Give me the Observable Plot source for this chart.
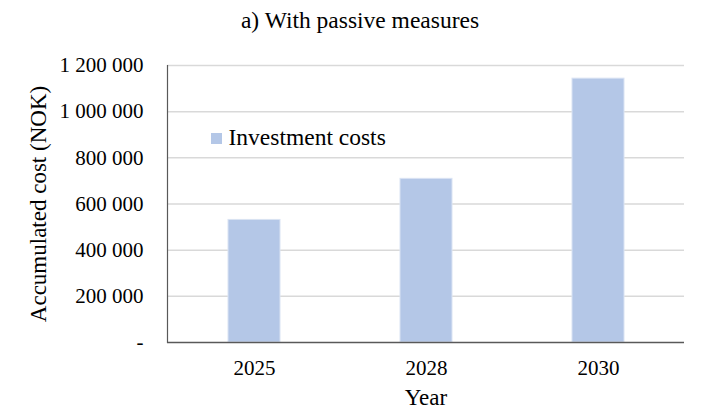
<!DOCTYPE html>
<html>
<head>
<meta charset="utf-8">
<script src="https://cdn.jsdelivr.net/npm/d3@7"></script>
<script src="https://cdn.jsdelivr.net/npm/@observablehq/plot@0.6"></script>
<style>
  html, body { margin: 0; padding: 0; background: #fff; }
  #chart { width: 702px; height: 413px; }
</style>
</head>
<body>
<div id="chart"></div>
<script>
const years = ["2025", "2028", "2030"];
const investmentCosts = [531000, 709000, 1143000];
const yTicks = [0, 200000, 400000, 600000, 800000, 1000000, 1200000];
const seriesName = "Investment costs";
const titleText = "a) With passive measures";
const yLabel = "Accumulated cost (NOK)";
const xLabel = "Year";

const data = years.map((y, i) => ({year: y, value: investmentCosts[i]}));
const fmt = d => d === 0 ? "-" : d3.format(",")(d).replace(/,/g, " ");
const font = "Liberation Serif, Times New Roman, serif";

const chart = Plot.plot({
  width: 702,
  height: 413,
  marginLeft: 167,
  marginRight: 18,
  marginTop: 65,
  marginBottom: 71,
  style: {fontFamily: font, fontSize: "21px", color: "#000", background: "#fff"},
  x: {domain: years, paddingInner: 0.7, paddingOuter: 0.35, axis: null},
  y: {domain: [0, 1200000], axis: null},
  marks: [
    Plot.ruleY(yTicks.filter(d => d > 0), {stroke: "#d9d9d9", strokeWidth: 1.5}),
    Plot.barY(data, {x: "year", y: "value", fill: "#b4c7e7", stroke: "#dae3f3", strokeWidth: 1}),
    Plot.frame({anchor: "left", stroke: "#595959", strokeWidth: 1.2}),
    Plot.ruleY([0], {stroke: "#595959", strokeWidth: 1.6}),
    Plot.axisY({ticks: yTicks, tickSize: 0, tickPadding: 24, tickFormat: fmt, fontSize: 21, label: null}),
    Plot.axisX({tickSize: 0, tickPadding: 18, fontSize: 21, label: null}),
    Plot.text([yLabel], {text: d => d, frameAnchor: "left", textAnchor: "middle", lineAnchor: "middle", rotate: -90, dx: -129, fontSize: 23, fill: "#000"}),
    Plot.text([xLabel], {text: d => d, frameAnchor: "bottom", lineAnchor: "middle", dy: 55, fontSize: 23, fill: "#000"}),
    Plot.text([titleText], {text: d => d, frameAnchor: "top", lineAnchor: "middle", dy: -45, dx: -66, fontSize: 23.5, fill: "#000"}),
    Plot.dot([seriesName], {frameAnchor: "top-left", dx: 49, dy: 73, symbol: "square", r: 6.2, fill: "#b4c7e7", stroke: null}),
    Plot.text([seriesName], {text: d => d, frameAnchor: "top-left", lineAnchor: "middle", dx: 61, dy: 72, textAnchor: "start", fontSize: 23.5, fill: "#000"})
  ]
});
document.getElementById("chart").appendChild(chart);
</script>
</body>
</html>
